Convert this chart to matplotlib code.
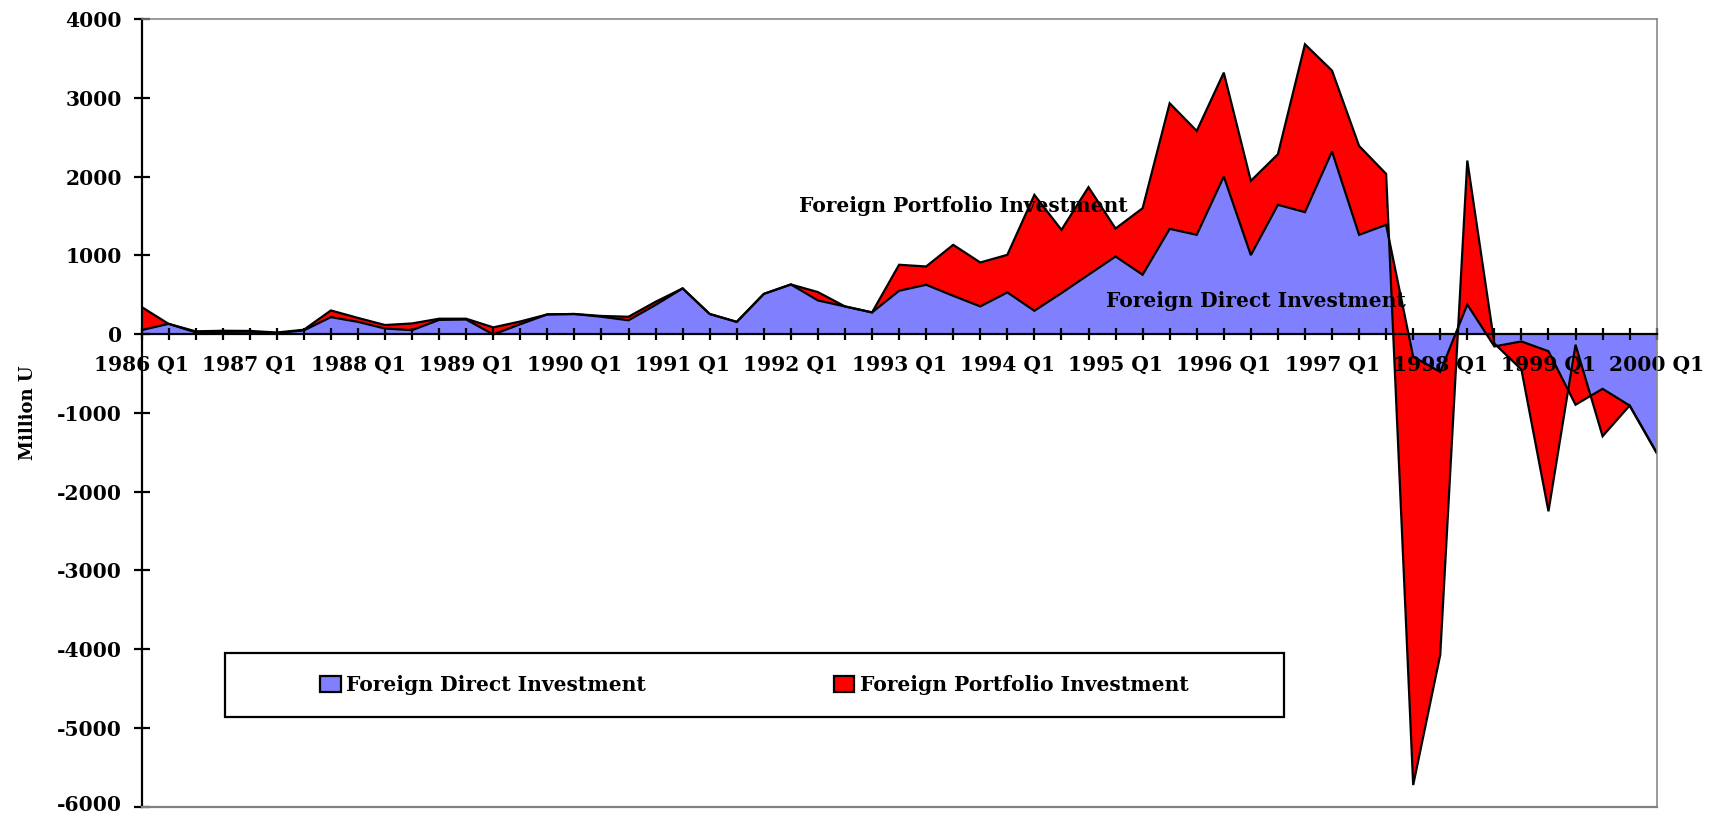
import matplotlib
matplotlib.use("Agg")
import matplotlib.pyplot as plt
from matplotlib.patches import Patch, Rectangle
from matplotlib.transforms import ScaledTranslation
import numpy as np

plt.rcParams['font.family'] = ['DejaVu Serif']
plt.rcParams['font.weight'] = 'bold'
plt.rcParams['axes.unicode_minus'] = False

# Quarterly data, 1986 Q1 .. 2000 Q1 (million U)
years = list(range(1986, 2001))
tick_labels = [f"{y} Q1" for y in years]

fdi = [50, 130, 22, 28, 30, 12, 47, 215, 155, 70,
       50, 180, 185, -5, 125, 250, 255, 220, 175, 370,
       580, 255, 155, 510, 630, 427, 351, 275, 550, 626,
       486, 351, 529, 296, 520, 753, 985, 753, 1336, 1260,
       2000, 1002, 1641, 1548, 2317, 1260, 1387, -288, -480, 375,
       -157, -93, -218, -897, -695, -907, -1508]
fpi = [295, 0, 13, 14, 10, 8, 8, 85, 50, 45,
       85, 15, 10, 90, 35, 0, 0, 10, 45, 40,
       0, 0, 0, 0, 0, 106, 0, 0, 330, 232,
       647, 558, 477, 1471, 803, 1112, 355, 845, 1594, 1319,
       1319, 943, 642, 2131, 1028, 1129, 647, -5437, -3592, 1828,
       37, -357, -2032, 762, -602, 0, 0]

series_names = ["Foreign Direct Investment", "Foreign Portfolio Investment"]
colors = ["#8080FF", "#FF0000"]

x = np.arange(len(fdi))
fdi_a = np.array(fdi, dtype=float)
total = fdi_a + np.array(fpi, dtype=float)

FS = 14.6

W, H = 1714, 815
fig = plt.figure(figsize=(W / 100, H / 100), dpi=100)
ax = fig.add_axes([141.5 / W, 1 - 806.7 / H, (1656.7 - 141.5) / W, (806.7 - 19) / H])

ax.fill_between(x, 0, fdi_a, facecolor=colors[0], edgecolor='none', zorder=1)
ax.fill_between(x, fdi_a, total, facecolor=colors[1], edgecolor='none', zorder=1.1)
ax.plot(x, fdi_a, color='black', lw=1.6, zorder=2, solid_joinstyle='miter')
ax.plot(x, total, color='black', lw=1.6, zorder=2, solid_joinstyle='miter')

ax.set_xlim(0, len(fdi) - 1)
ax.set_ylim(-6000, 4000)

gray = '#808080'
ax.spines['bottom'].set_position(('data', 0))
ax.spines['bottom'].set_color('black')
ax.spines['bottom'].set_linewidth(1.6)
ax.spines['left'].set_color('black')
ax.spines['left'].set_linewidth(1.6)
for s in ('top', 'right'):
    ax.spines[s].set_color(gray)
    ax.spines[s].set_linewidth(1.1)
ax.axhline(-6000, color=gray, lw=1.6, clip_on=False, zorder=3)

ax.set_xticks(np.arange(0, len(fdi), 4))
ax.set_xticklabels(tick_labels)
ax.set_xticks(np.arange(0, len(fdi)), minor=True)
ax.tick_params(axis='x', which='both', direction='inout', length=8.6, width=1.6, pad=10.5,
               labelsize=FS, colors='black')
ax.set_yticks(np.arange(-6000, 4001, 1000))
ax.set_yticklabels([str(v) for v in range(-6000, 4001, 1000)])
ax.tick_params(axis='y', direction='inout', length=11, width=1.6, pad=8.5, labelsize=FS)
for lab in ax.get_xticklabels() + ax.get_yticklabels():
    lab.set_fontweight('bold')
# keep the bottom y tick label inside the figure
bottom_lab = ax.yaxis.get_major_ticks()[0].label1
bottom_lab.set_transform(bottom_lab.get_transform() +
                         ScaledTranslation(0, 3 / 72, fig.dpi_scale_trans))

ax.set_ylabel("Million U", fontsize=13, fontweight='bold')
ax.yaxis.set_label_coords(-0.069, 0.5)

ax.text(24.3, 1620, "Foreign Portfolio Investment", fontsize=FS, fontweight='bold',
        ha='left', va='center', zorder=4)
ax.text(35.65, 423, "Foreign Direct Investment", fontsize=FS, fontweight='bold',
        ha='left', va='center', zorder=4)

# legend box
fig.patches.append(Rectangle((224.6 / W, 1 - 716.7 / H), (1284 - 224.6) / W, 64 / H,
                             transform=fig.transFigure, facecolor='white',
                             edgecolor='black', lw=1.6, zorder=5))
handles = [Patch(facecolor=c, edgecolor='black', lw=1.6) for c in colors]
leg = fig.legend(handles, series_names, loc='center', bbox_to_anchor=(754.3 / W, 1 - 685 / H),
                 ncol=2, frameon=False, prop={'size': FS, 'weight': 'bold'},
                 handlelength=1.0, handleheight=0.78, handletextpad=0.25, columnspacing=9.3)
leg.set_zorder(6)

fig.savefig("out.png", dpi=100)
